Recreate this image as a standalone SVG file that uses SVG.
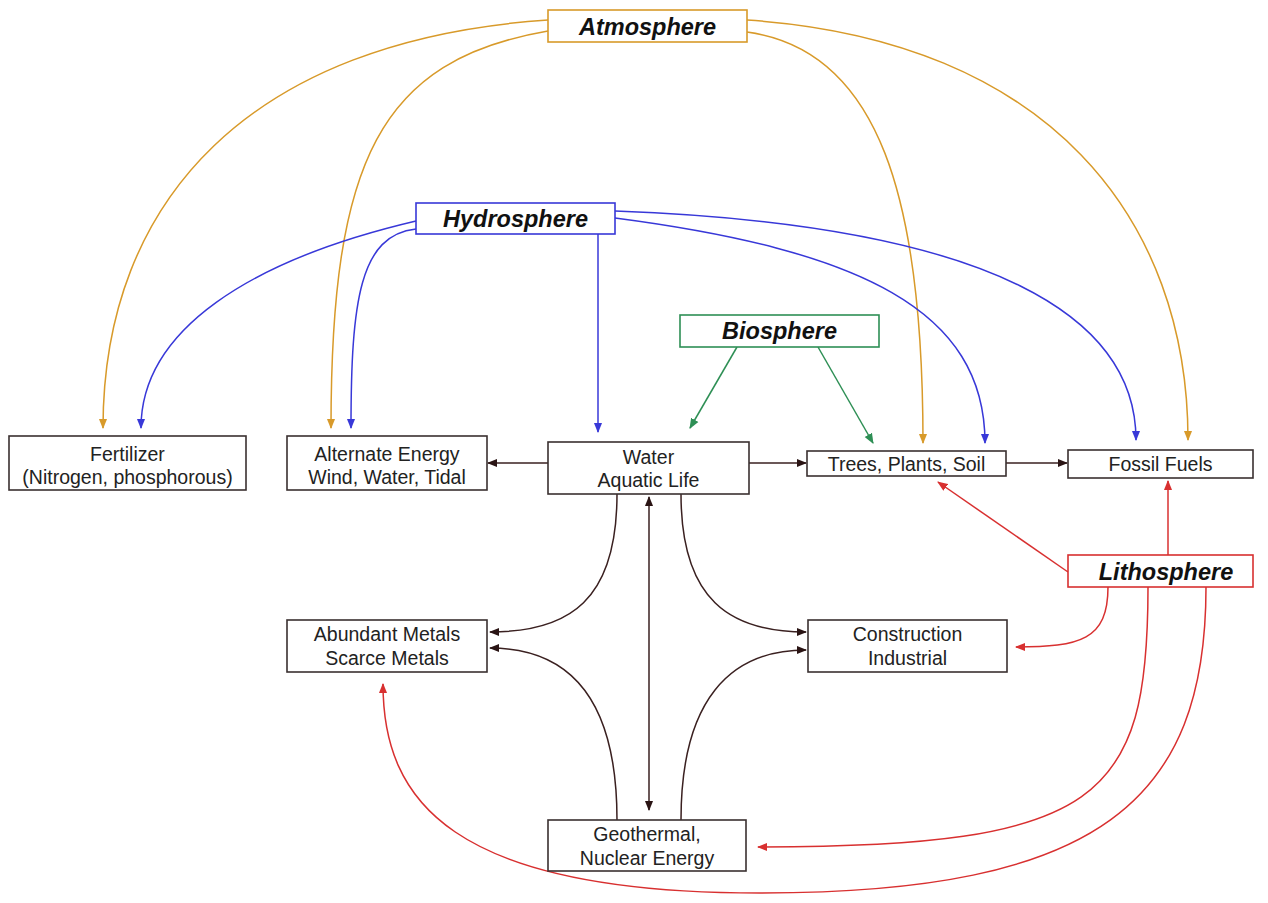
<svg xmlns="http://www.w3.org/2000/svg" width="1268" height="903" viewBox="0 0 1268 903">
<style>
.box{fill:#fff;stroke:#3a3030;stroke-width:1.6}
.t{font-family:"Liberation Sans",Arial,sans-serif;font-size:19.5px;fill:#222;text-anchor:middle}
.h{font-family:"Liberation Sans",Arial,sans-serif;font-size:23.5px;font-weight:bold;font-style:italic;fill:#111;text-anchor:middle}
.c{fill:none;stroke-width:1.5}
.o{stroke:#d89a2a}
.b{stroke:#3838d8}
.g{stroke:#2e8f55}
.k{stroke:#3a2020}
.r{stroke:#d83030}
</style>
<defs>
<marker id="ao" viewBox="0 0 10 10" refX="9" refY="5" markerWidth="7" markerHeight="7" orient="auto"><path d="M0,1 L10,5 L0,9z" fill="#d89a2a"/></marker>
<marker id="ab" viewBox="0 0 10 10" refX="9" refY="5" markerWidth="7" markerHeight="7" orient="auto"><path d="M0,1 L10,5 L0,9z" fill="#3838d8"/></marker>
<marker id="ag" viewBox="0 0 10 10" refX="9" refY="5" markerWidth="7" markerHeight="7" orient="auto"><path d="M0,1 L10,5 L0,9z" fill="#2e8f55"/></marker>
<marker id="ak" viewBox="0 0 10 10" refX="9" refY="5" markerWidth="7" markerHeight="7" orient="auto"><path d="M0,1 L10,5 L0,9z" fill="#2a1414"/></marker>
<marker id="ar" viewBox="0 0 10 10" refX="9" refY="5" markerWidth="7" markerHeight="7" orient="auto"><path d="M0,1 L10,5 L0,9z" fill="#d83030"/></marker>
<marker id="aks" viewBox="0 0 10 10" refX="1" refY="5" markerWidth="7" markerHeight="7" orient="auto"><path d="M10,1 L0,5 L10,9z" fill="#2a1414"/></marker>
</defs>
<g id="connectors">
<path class="c o" d="M548,20 C250,40 103,200 103,428" marker-end="url(#ao)"/>
<path class="c o" d="M548,31 C380,60 331,160 331,428" marker-end="url(#ao)"/>
<path class="c o" d="M747,32 C880,50 923,200 923,443" marker-end="url(#ao)"/>
<path class="c o" d="M747,20 C1050,40 1188,220 1188,440" marker-end="url(#ao)"/>
<path class="c b" d="M416,221 C250,260 141,330 141,428" marker-end="url(#ab)"/>
<path class="c b" d="M416,229 C360,235 351,300 351,428" marker-end="url(#ab)"/>
<path class="c b" d="M598,234 L598,432" marker-end="url(#ab)"/>
<path class="c b" d="M615,218 C860,250 985,310 985,443" marker-end="url(#ab)"/>
<path class="c b" d="M615,211 C1000,225 1136,320 1136,440" marker-end="url(#ab)"/>
<path class="c g" d="M737,347 L690,428" marker-end="url(#ag)"/>
<path class="c g" d="M818,347 L873,443" marker-end="url(#ag)"/>
<path class="c k" d="M548,463 L488,463" marker-end="url(#ak)"/>
<path class="c k" d="M749,463 L806,463" marker-end="url(#ak)"/>
<path class="c k" d="M1006,463 L1067,463" marker-end="url(#ak)"/>
<path class="c k" d="M649,497 L649,810" marker-start="url(#aks)" marker-end="url(#ak)"/>
<path class="c k" d="M617,494 C617,600 570,632 490,632" marker-end="url(#ak)"/>
<path class="c k" d="M681,494 C681,600 730,632 806,632" marker-end="url(#ak)"/>
<path class="c k" d="M617,820 C617,700 570,648 490,648" marker-end="url(#ak)"/>
<path class="c k" d="M681,820 C681,700 730,650 806,650" marker-end="url(#ak)"/>
<path class="c r" d="M1068,572 L938,482" marker-end="url(#ar)"/>
<path class="c r" d="M1168,555 L1168,481" marker-end="url(#ar)"/>
<path class="c r" d="M1108,587 C1108,640 1080,647 1016,647" marker-end="url(#ar)"/>
<path class="c r" d="M1148,587 C1148,800 1100,847 758,847" marker-end="url(#ar)"/>
<path class="c r" d="M1206,587 C1206,800 1100,893 760,893 C450,893 383,800 383,684" marker-end="url(#ar)"/>
</g>
<g id="atmosphere"><rect x="548" y="10" width="199" height="32" fill="#fff" stroke="#d89a2a" stroke-width="1.6"/><text class="h" x="647.5" y="35">Atmosphere</text></g>
<g id="hydrosphere"><rect x="416" y="203" width="199" height="31" fill="#fff" stroke="#3838d8" stroke-width="1.6"/><text class="h" x="515.5" y="227">Hydrosphere</text></g>
<g id="biosphere"><rect x="680" y="315" width="199" height="32" fill="#fff" stroke="#2e8f55" stroke-width="1.6"/><text class="h" x="779.5" y="339">Biosphere</text></g>
<g id="lithosphere"><rect x="1068" y="555" width="185" height="32" fill="#fff" stroke="#d83030" stroke-width="1.6"/><text class="h" x="1166" y="580">Lithosphere</text></g>
<g id="fertilizer"><rect class="box" x="9" y="436" width="237" height="54"/><text class="t" x="127.5" y="461">Fertilizer</text><text class="t" x="127.5" y="484">(Nitrogen, phosphorous)</text></g>
<g id="alternate"><rect class="box" x="287" y="436" width="200" height="54"/><text class="t" x="387" y="461">Alternate Energy</text><text class="t" x="387" y="484">Wind, Water, Tidal</text></g>
<g id="water"><rect class="box" x="548" y="442" width="201" height="52"/><text class="t" x="648.5" y="464">Water</text><text class="t" x="648.5" y="487">Aquatic Life</text></g>
<g id="trees"><rect class="box" x="807" y="451" width="199" height="25"/><text class="t" x="906.5" y="471">Trees, Plants, Soil</text></g>
<g id="fossil"><rect class="box" x="1068" y="450" width="185" height="28"/><text class="t" x="1160.5" y="471">Fossil Fuels</text></g>
<g id="metals"><rect class="box" x="287" y="620" width="200" height="52"/><text class="t" x="387" y="641">Abundant Metals</text><text class="t" x="387" y="665">Scarce Metals</text></g>
<g id="construction"><rect class="box" x="808" y="620" width="199" height="52"/><text class="t" x="907.5" y="641">Construction</text><text class="t" x="907.5" y="665">Industrial</text></g>
<g id="geothermal"><rect class="box" x="548" y="820" width="198" height="51"/><text class="t" x="647" y="841">Geothermal,</text><text class="t" x="647" y="865">Nuclear Energy</text></g>
</svg>
